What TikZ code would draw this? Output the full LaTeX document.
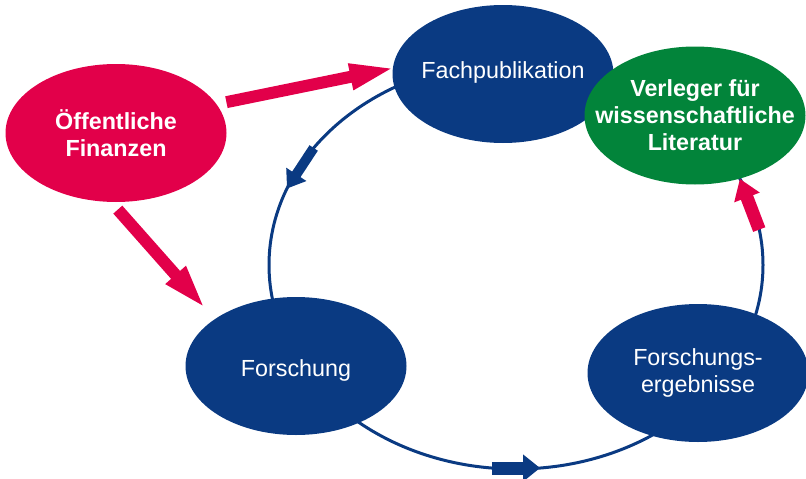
\documentclass[tikz,border=0pt]{standalone}
\usepackage{fontspec}
\setmainfont{Liberation Sans}
\usetikzlibrary{shapes.geometric,arrows.meta,calc}
\definecolor{dblue}{RGB}{10,58,130}
\definecolor{dred}{RGB}{226,0,74}
\definecolor{dgreen}{RGB}{2,132,58}
\begin{document}
\begin{tikzpicture}[x=1pt,y=-1pt,
  blob/.style={ellipse, inner sep=0pt, minimum width=221pt, minimum height=138pt},
  txt/.style={align=center, text=white, inner sep=0pt, font=\fontsize{23.3}{27}\selectfont},
  btxt/.style={txt, font=\fontsize{23.3}{27}\selectfont\bfseries},
  cycleline/.style={draw=dblue, line width=3pt},
  redarr/.style={draw=dred, line width=12pt, -{Triangle[length=48pt,width=23pt]}},
  bluemark/.style={draw=dblue, line width=10pt, -{Triangle[length=17pt,width=23pt]}},
  bluemarkb/.style={draw=dblue, line width=13pt, -{Triangle[length=17pt,width=26pt]}},
  redmark/.style={draw=dred, line width=13pt, -{Triangle[length=20pt,width=26pt]}}
]
\useasboundingbox (0,0) rectangle (806,479);
\coordinate (cyc) at (516,265);
\draw[cycleline] (cyc) ellipse [x radius=247, y radius=204];

\node[blob, fill=dblue, label={[txt, yshift=2pt]center:Fachpublikation}] (fach) at (503,74) {};
\node[blob, fill=dgreen, label={[btxt]center:Verleger für\\wissenschaftliche\\Literatur}] (verl) at (695,115.5) {};
\node[blob, fill=dblue, label={[txt, yshift=-4pt]center:Forschung}] (forsch) at (296,366) {};
\node[blob, fill=dblue, label={[txt]center:Forschungs-\\ergebnisse}] (erg) at (698,373) {};
\node[blob, fill=dred, label={[btxt]center:Öffentliche\\Finanzen}] (fin) at (116,133) {};

\draw[redarr, shorten <=10pt, shorten >=-5pt] (fin.16) -- (fach.177);
\draw[redarr, shorten <=10pt, shorten >=11pt] (fin.-94) -- (forsch.150);

\draw[bluemark] ($(cyc)+({247*cos(145)},{-204*sin(145)})$) -- ($(cyc)+({247*cos(158)},{-204*sin(158)})$);
\draw[bluemarkb] ($(cyc)+({247*cos(264.4)},{-204*sin(264.4)})$) -- ($(cyc)+({247*cos(275.6)},{-204*sin(275.6)})$);
\draw[redmark] ($(cyc)+({247*cos(10)},{-204*sin(10)})$) -- ($(cyc)+({247*cos(25)},{-204*sin(25)})$);
\end{tikzpicture}
\end{document}
